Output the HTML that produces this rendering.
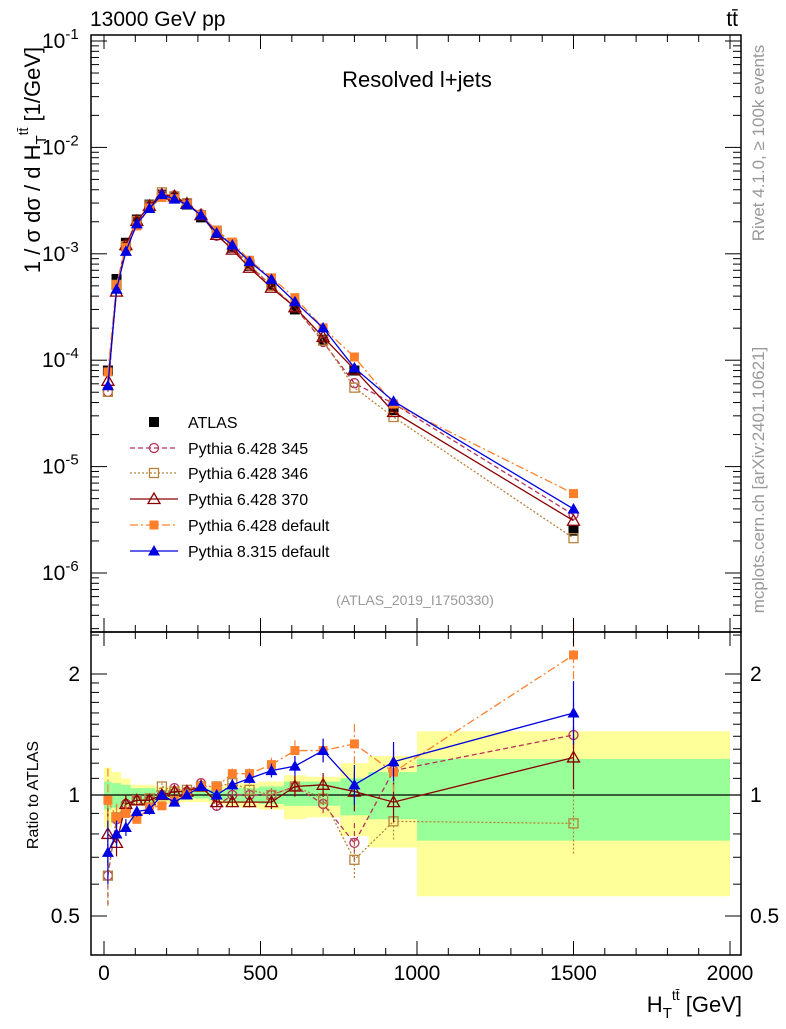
<!DOCTYPE html>
<html><head><meta charset="utf-8"><style>
body{margin:0;background:#fff}
svg{font-family:"Liberation Sans",sans-serif}
</style></head><body>
<svg id="c" width="786" height="1024" xmlns="http://www.w3.org/2000/svg"></svg>
<script>
const centers=[12.5,40,70,105,145,185,225,265,310,360,410,465,535,610,700,800,925,1500];
const edges=[0,25,55,85,125,165,205,245,285,335,385,435,495,575,645,755,845,1000,2000];
const atlas=[8e-5,5.8e-4,1.27e-3,2.1e-3,2.9e-3,3.6e-3,3.4e-3,2.9e-3,2.2e-3,1.57e-3,1.14e-3,7.7e-4,5.0e-4,3.0e-4,1.56e-4,8.0e-5,3.4e-5,2.5e-6];
const r345=[0.63,0.87,0.95,0.97,0.97,1.0,1.04,1.02,1.07,0.94,1.0,1.0,1.0,1.05,0.95,0.76,1.15,1.41];
const r346=[0.63,0.88,0.93,0.97,0.98,1.05,1.02,1.03,1.05,1.05,1.07,1.03,1.0,1.05,0.98,0.69,0.86,0.85];
const r370=[0.80,0.76,0.95,0.97,0.97,1.0,1.02,1.02,1.05,0.96,0.96,0.96,0.96,1.05,1.06,1.02,0.96,1.24];
const r6def=[0.97,0.88,0.90,0.87,0.93,0.94,0.97,1.0,1.05,1.05,1.13,1.13,1.19,1.29,1.29,1.34,1.14,2.23];
const r8def=[0.72,0.80,0.83,0.91,0.92,1.0,0.96,1.0,1.05,1.0,1.06,1.10,1.15,1.18,1.29,1.06,1.21,1.60];
const yelLo=[0.83,0.88,0.9,0.94,0.94,0.95,0.95,0.96,0.96,0.95,0.94,0.93,0.92,0.87,0.88,0.79,0.74,0.56];
const yelHi=[1.17,1.14,1.1,1.06,1.06,1.05,1.05,1.04,1.04,1.05,1.06,1.07,1.08,1.12,1.11,1.20,1.25,1.44];
const grnLo=[0.92,0.93,0.94,0.96,0.96,0.97,0.97,0.98,0.98,0.97,0.96,0.96,0.95,0.94,0.94,0.89,0.87,0.77];
const grnHi=[1.08,1.07,1.06,1.04,1.04,1.03,1.03,1.02,1.02,1.03,1.04,1.04,1.05,1.08,1.08,1.10,1.14,1.23];
const errR=[0.2,0.08,0.05,0.03,0.03,0.02,0.02,0.02,0.02,0.03,0.03,0.03,0.04,0.06,0.07,0.12,0.12,0.2];

const S=document.getElementById('c');const NS='http://www.w3.org/2000/svg';
function el(t,a,txt){const e=document.createElementNS(NS,t);for(const k in a)e.setAttribute(k,a[k]);if(txt!==undefined)e.textContent=txt;S.appendChild(e);return e;}
const X=v=>104+v*0.313;
const Y=v=>41-(Math.log10(v)+1)*106.4;
const R=v=>795-121*Math.log2(v);
const L=91,Rr=741,T=35,M=632,B=955;

for(let i=0;i<centers.length;i++){
  let b=el('rect',{x:X(edges[i]),y:R(yelHi[i]),width:X(edges[i+1])-X(edges[i]),height:R(yelLo[i])-R(yelHi[i]),fill:'#ffff99'});
  
  let g=el('rect',{x:X(edges[i]),y:R(grnHi[i]),width:X(edges[i+1])-X(edges[i]),height:R(grnLo[i])-R(grnHi[i]),fill:'#99ff99'});
  
}
el('line',{x1:L,x2:Rr,y1:R(1),y2:R(1),stroke:'#000','stroke-width':1.2,});

const series=[
 {n:'Pythia 6.428 345',r:r345,c:'#b5325a',d:'5,3',m:'circle'},
 {n:'Pythia 6.428 346',r:r346,c:'#b8823a',d:'2,2',m:'osq'},
 {n:'Pythia 6.428 370',r:r370,c:'#8b0000',d:'',m:'otri'},
 {n:'Pythia 6.428 default',r:r6def,c:'#ff7f2a',d:'8,3,2,3',m:'fsq'},
 {n:'Pythia 8.315 default',r:r8def,c:'#0000e0',d:'',m:'ftri'}];
function marker(m,x,y,c,name){
  let e;
  if(m==='circle')e=el('circle',{cx:x,cy:y,r:4.5,fill:'none',stroke:c,'stroke-width':1.3});
  else if(m==='osq')e=el('rect',{x:x-4.5,y:y-4.5,width:9,height:9,fill:'none',stroke:c,'stroke-width':1.3});
  else if(m==='fsq')e=el('rect',{x:x-4.5,y:y-4.5,width:9,height:9,fill:c});
  else if(m==='bsq')e=el('rect',{x:x-5,y:y-5,width:10,height:10,fill:'#000'});
  else {const p=`${x},${y-6} ${x-6},${y+4.5} ${x+6},${y+4.5}`;e=m==='otri'?el('polygon',{points:p,fill:'none',stroke:c,'stroke-width':1.3}):el('polygon',{points:p,fill:c});}
  
}
atlas.forEach((v,i)=>marker('bsq',X(centers[i]),Y(v),'#000','atlas-point'));
series.forEach((s,k)=>{
  const mp=centers.map((c,i)=>X(c)+','+Y(atlas[i]*s.r[i])).join(' ');
  let p=el('polyline',{points:mp,fill:'none',stroke:s.c,'stroke-width':1.3,'stroke-dasharray':s.d});
  
  const rp=centers.map((c,i)=>X(c)+','+R(s.r[i])).join(' ');
  let q=el('polyline',{points:rp,fill:'none',stroke:s.c,'stroke-width':1.3,'stroke-dasharray':s.d});
  
  centers.forEach((c,i)=>{
    let e=el('line',{x1:X(c),x2:X(c),y1:R(s.r[i]*(1+errR[i])),y2:R(s.r[i]/(1+errR[i])),stroke:s.c,'stroke-width':1.2,'stroke-dasharray':s.d});
    
    marker(s.m,X(c),Y(atlas[i]*s.r[i]),s.c,'main-point');
    marker(s.m,X(c),R(s.r[i]),s.c,'ratio-point');
  });
});

el('rect',{x:L,y:T,width:Rr-L,height:M-T,fill:'none',stroke:'#000','stroke-width':1.5,});
el('rect',{x:L,y:M,width:Rr-L,height:B-M,fill:'none',stroke:'#000','stroke-width':1.5,});
for(let v=0;v<=2000;v+=100){const maj=v%500===0,len=maj?14:7,x=X(v);
 [[B,-1],[M,1],[M,-1],[T,1]].forEach(([y,d])=>el('line',{x1:x,x2:x,y1:y,y2:y+d*len,stroke:'#000','stroke-width':1}));
 if(maj)el('text',{x:x,y:980,'font-size':21,'text-anchor':'middle',},String(v));}
for(let e=-7;e<=-1;e++)for(let m=1;m<10;m++){const v=m*Math.pow(10,e),y=Y(v);if(y<T||y>M)continue;const len=m===1?16:8;
 el('line',{x1:L,x2:L+len,y1:y,y2:y,stroke:'#000'});el('line',{x1:Rr,x2:Rr-len,y1:y,y2:y,stroke:'#000'});
 if(m===1){const t=el('text',{x:42,y:y+7,'font-size':21,});t.innerHTML='10<tspan dy="-9" font-size="15">'+e+'</tspan>';}}
[0.4,0.5,0.6,0.7,0.8,0.9,1,1.1,1.2,1.3,1.4,1.5,1.6,1.7,1.8,1.9,2,2.5].forEach(v=>{const y=R(v);if(y<M||y>B)return;const maj=[0.5,1,2].includes(v),len=maj?16:8;
 el('line',{x1:L,x2:L+len,y1:y,y2:y,stroke:'#000'});el('line',{x1:Rr,x2:Rr-len,y1:y,y2:y,stroke:'#000'});
 if(maj){el('text',{x:80,y:y+7,'font-size':21,'text-anchor':'end',},String(v));
 el('text',{x:750,y:y+7,'font-size':21,},String(v));}});
el('text',{x:90,y:26,'font-size':21,},'13000 GeV pp');
el('text',{x:738,y:26,'font-size':21,'text-anchor':'end',},'tt̄');
el('text',{x:417,y:87,'font-size':22,'text-anchor':'middle',},'Resolved l+jets');
el('text',{x:415,y:605,'font-size':14,fill:'#999','text-anchor':'middle',},'(ATLAS_2019_I1750330)');
const yt=el('text',{transform:'translate(40,160) rotate(-90)','font-size':22,'text-anchor':'middle',});
yt.innerHTML='1 / σ dσ / d H<tspan dy="6" font-size="15">T</tspan><tspan dy="-18" font-size="14">tt̄</tspan><tspan dy="12"> [1/GeV]</tspan>';
el('text',{transform:'translate(38,795) rotate(-90)','font-size':16,'text-anchor':'middle',},'Ratio to ATLAS');
const xt=el('text',{x:742,y:1012,'font-size':22,'text-anchor':'end',});
xt.innerHTML='H<tspan dy="6" font-size="15">T</tspan><tspan dy="-18" font-size="14">tt̄</tspan><tspan dy="12"> [GeV]</tspan>';
el('text',{transform:'translate(764,143) rotate(-90)','font-size':17,fill:'#999','text-anchor':'middle',},'Rivet 4.1.0, ≥ 100k events');
el('text',{transform:'translate(764,480) rotate(-90)','font-size':17,fill:'#999','text-anchor':'middle',},'mcplots.cern.ch [arXiv:2401.10621]');
const ly=[422,448,473,499,525,551];
marker('bsq',154,ly[0],'#000','legend-atlas-marker');
el('text',{x:188,y:ly[0]+6,'font-size':16,},'ATLAS');
series.forEach((s,k)=>{const y=ly[k+1];
 el('line',{x1:130,x2:178,y1:y,y2:y,stroke:s.c,'stroke-width':1.3,'stroke-dasharray':s.d});
 marker(s.m,154,y,s.c,'legend-marker');
 el('text',{x:188,y:y+6,'font-size':16,},s.n);});
</script>
</body></html>
